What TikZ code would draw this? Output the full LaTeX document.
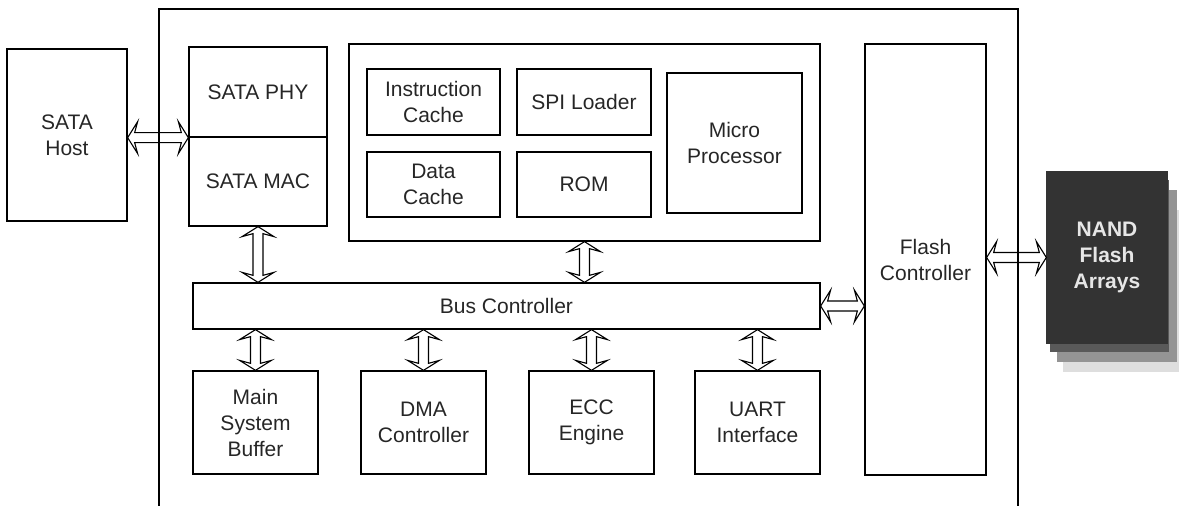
\documentclass[tikz,border=0pt]{standalone}
\usepackage{fontspec}
\setmainfont{Liberation Sans}
\usepackage{tikz}
\usetikzlibrary{calc}

\definecolor{nandfill}{HTML}{333333}
\definecolor{nandtext}{HTML}{E6E6E6}

% fat hollow two-headed arrow between two points
\newcommand{\biarrow}[2]{%
  \filldraw[busarrow] (#1)
    -- ($(#1)!10pt!(#2)!16pt!90:(#2)$)
    -- ($(#1)!7pt!(#2)!5pt!90:(#2)$)
    -- ($(#2)!7pt!(#1)!5pt!-90:(#1)$)
    -- ($(#2)!10pt!(#1)!16pt!-90:(#1)$)
    -- (#2)
    -- ($(#2)!10pt!(#1)!16pt!90:(#1)$)
    -- ($(#2)!7pt!(#1)!5pt!90:(#1)$)
    -- ($(#1)!7pt!(#2)!5pt!-90:(#2)$)
    -- ($(#1)!10pt!(#2)!16pt!-90:(#2)$)
    -- cycle;}

\begin{document}
\begin{tikzpicture}[x=1pt, y=1pt, every node/.style={draw, rectangle, line width=1.3pt, align=center, text=black!85, font=\fontsize{21}{26}\selectfont},
  box/.style 2 args={minimum width=#1pt, minimum height=#2pt},
  busarrow/.style={draw, fill=white, line width=1.1pt, line join=miter}]
			\useasboundingbox (0, 0) rectangle (1179, 506);
			% shadow under the flash arrays
			\fill[black!13] (1063, 134) rectangle (1179, 296);
			\fill[black!42] (1057, 144) rectangle (1177, 316);
			\fill[black!65] (1050, 154) rectangle (1169, 326);
			% host side
			\node[box={120}{172}] (host) at (67, 371) {SATA\\Host};
			\node[box={138}{90}] (phy) at (258, 414) {SATA PHY};
			\node[box={138}{89}] (mac) at (258, 324.5) {SATA MAC};
			% processor group
			\node[box={471}{197}] (grp) at (584.5, 363.5) {};
			\node[box={133}{66}] (icache) at (433.5, 404) {Instruction\\Cache};
			\node[box={133}{65}] (dcache) at (433.5, 321.5) {Data\\Cache};
			\node[box={134}{66}] (spi) at (584, 404) {SPI Loader};
			\node[box={134}{65}] (rom) at (584, 321.5) {ROM};
			\node[box={135}{140}] (cpu) at (734.5, 363) {Micro\\Processor};
			% bus and its clients
			\node[box={627}{46}] (bus) at (506.5, 200) {Bus Controller};
			\node[box={125}{103}] (msb) at (255.5, 83.5) {Main\\System\\Buffer};
			\node[box={125}{103}] (dma) at (423.5, 83.5) {DMA\\Controller};
			\node[box={125}{103}] (ecc) at (591.5, 83.5) {ECC\\Engine};
			\node[box={125}{103}] (uart) at (757.5, 83.5) {UART\\Interface};
			% flash side
			\node[box={121}{431}] (flash) at (925.5, 246.5) {Flash\\Controller};
			\node[box={120}{171}, fill=nandfill, draw=nandfill, text=nandtext, font=\fontsize{21}{26}\selectfont\bfseries] (nand) at (1107, 248.5) {NAND\\Flash\\Arrays};
			% links
			\biarrow{host.east |- phy.south}{phy.south west}
			\biarrow{mac.south}{mac.south |- bus.north}
			\biarrow{grp.south}{grp.south |- bus.north}
			\biarrow{msb.north |- bus.south}{msb.north}
			\biarrow{dma.north |- bus.south}{dma.north}
			\biarrow{ecc.north |- bus.south}{ecc.north}
			\biarrow{uart.north |- bus.south}{uart.north}
			\biarrow{bus.east}{bus.east -| flash.west}
			\biarrow{flash.east |- nand.west}{nand.west}
			% controller chip outline, open at the bottom
			\draw[line width=1.3pt] (159, 0) -- (159, 497) -- (1018, 497) -- (1018, 0);
		\end{tikzpicture}
\end{document}
